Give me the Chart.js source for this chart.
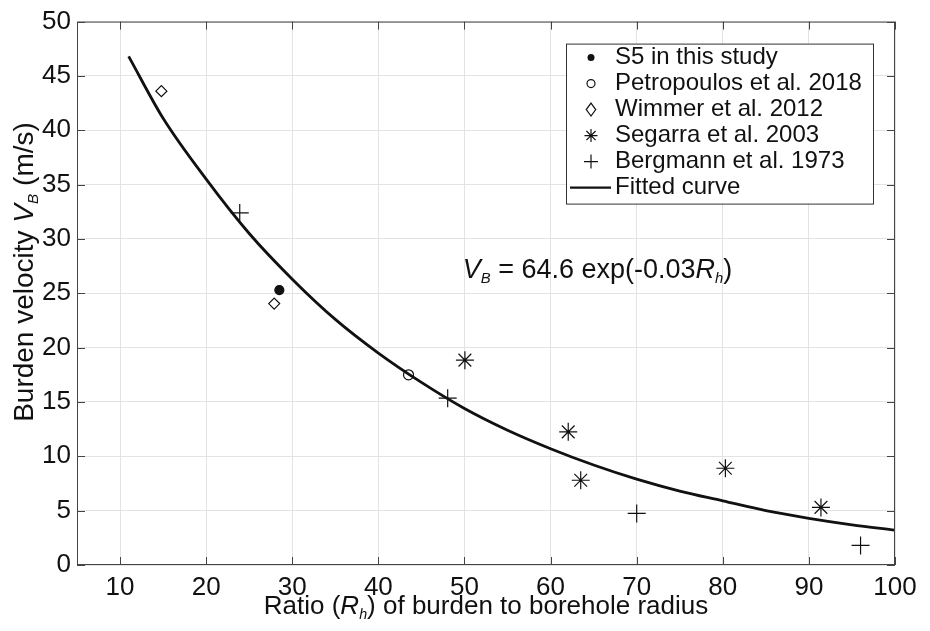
<!DOCTYPE html>
<html>
<head>
<meta charset="utf-8">
<script src="https://cdn.jsdelivr.net/npm/chart.js@4/dist/chart.umd.min.js"></script>
<style>
  html, body { margin: 0; padding: 0; background: #fff; }
  #wrap { width: 930px; height: 631px; }
</style>
</head>
<body>
<div id="wrap"><canvas id="burden-chart" width="930" height="631"></canvas></div>
<script>
// tick labels
const xTicks = [10, 20, 30, 40, 50, 60, 70, 80, 90, 100];
const yTicks = [0, 5, 10, 15, 20, 25, 30, 35, 40, 45, 50];

// measured data
const s5X = [28.5];
const s5Y = [25.3];
const petroX = [43.5];
const petroY = [17.5];
const wimmerX = [14.8, 27.9];
const wimmerY = [43.6, 24.05];
const segarraX = [50.05, 62.05, 63.5, 80.3, 91.4];
const segarraY = [18.85, 12.25, 7.8, 8.9, 5.3];
const bergmannX = [23.9, 48.05, 70.0, 96.0];
const bergmannY = [32.4, 15.35, 4.75, 1.8];

// fitted curve
const fitX = [11, 15, 20, 25, 30, 35, 40, 45, 50, 55, 60, 65, 70, 75, 80, 85, 90, 95, 100];
const fitY = [46.8, 41.1, 35.5, 30.5, 26.3, 22.6, 19.5, 16.8, 14.4, 12.4, 10.7, 9.2, 7.9, 6.8, 5.9, 5.0, 4.3, 3.7, 3.2];

const toPts = (xs, ys) => xs.map((x, i) => ({ x: x, y: ys[i] }));

const FONT = "'Liberation Sans', Arial, Helvetica, sans-serif";
const INK = "#111";

// draws one run of text pieces: [text, italic, sub]
function drawRich(ctx, parts, size, x, y, align) {
    const widths = parts.map(p => {
        ctx.font = (p[1] ? "italic " : "") + (p[2] ? size * 0.55 : size) + "px " + FONT;
        return ctx.measureText(p[0]).width;
    });
    const total = widths.reduce((a, b) => a + b, 0);
    let cx = align === "center" ? x - total / 2 : x;
    parts.forEach((p, i) => {
        ctx.font = (p[1] ? "italic " : "") + (p[2] ? size * 0.55 : size) + "px " + FONT;
        ctx.fillText(p[0], cx, p[2] ? y + size * 0.18 : y);
        cx += widths[i];
    });
}

function drawMarker(ctx, style, x, y, r) {
    ctx.beginPath();
    if (style === "dot") {
        ctx.arc(x, y, r, 0, Math.PI * 2);
        ctx.fill();
        return;
    }
    if (style === "circle") {
        ctx.arc(x, y, r, 0, Math.PI * 2);
    } else if (style === "diamond") {
        ctx.moveTo(x, y - r * 1.3);
        ctx.lineTo(x + r * 0.95, y);
        ctx.lineTo(x, y + r * 1.3);
        ctx.lineTo(x - r * 0.95, y);
        ctx.closePath();
    } else if (style === "star") {
        const d = r * Math.SQRT1_2;
        ctx.moveTo(x - r, y); ctx.lineTo(x + r, y);
        ctx.moveTo(x, y - r); ctx.lineTo(x, y + r);
        ctx.moveTo(x - d, y - d); ctx.lineTo(x + d, y + d);
        ctx.moveTo(x - d, y + d); ctx.lineTo(x + d, y - d);
    } else if (style === "plus") {
        ctx.moveTo(x - r, y); ctx.lineTo(x + r, y);
        ctx.moveTo(x, y - r); ctx.lineTo(x, y + r);
    }
    ctx.stroke();
}

const legendItems = [
    { label: "S5 in this study", style: "dot", r: 3.5 },
    { label: "Petropoulos et al. 2018", style: "circle", r: 4 },
    { label: "Wimmer et al. 2012", style: "diamond", r: 5 },
    { label: "Segarra et al. 2003", style: "star", r: 6.5 },
    { label: "Bergmann et al. 1973", style: "plus", r: 7 },
    { label: "Fitted curve", style: "line" }
];

const decorPlugin = {
    id: "decor",
    afterDatasetsDraw(chart) {
        const ctx = chart.ctx;
        const a = chart.chartArea;
        const xs = chart.scales.x;
        const ys = chart.scales.y;
        ctx.save();

        // box + inward ticks
        ctx.strokeStyle = "#444";
        ctx.lineWidth = 1;
        ctx.strokeRect(a.left + 0.5, a.top + 0.5, a.right - a.left - 1, a.bottom - a.top - 1);
        ctx.beginPath();
        xTicks.forEach(v => {
            const px = Math.round(xs.getPixelForValue(v)) + 0.5;
            ctx.moveTo(px, a.bottom); ctx.lineTo(px, a.bottom - 8);
            ctx.moveTo(px, a.top); ctx.lineTo(px, a.top + 8);
        });
        yTicks.forEach(v => {
            const py = Math.round(ys.getPixelForValue(v)) + 0.5;
            ctx.moveTo(a.left, py); ctx.lineTo(a.left + 8, py);
            ctx.moveTo(a.right, py); ctx.lineTo(a.right - 8, py);
        });
        ctx.stroke();

        // equation
        ctx.fillStyle = INK;
        ctx.textBaseline = "alphabetic";
        ctx.textAlign = "left";
        drawRich(ctx, [["V", true], ["B", true, true], [" = 64.6 exp(-0.03", false], ["R", true], ["h", true, true], [")", false]],
            27, xs.getPixelForValue(49.8), ys.getPixelForValue(26.4), "left");

        // legend
        const lx = a.right - 329, ly = a.top + 22, lw = 307, lh = 160;
        ctx.fillStyle = "#fff";
        ctx.fillRect(lx, ly, lw, lh);
        ctx.strokeStyle = "#333";
        ctx.lineWidth = 1;
        ctx.strokeRect(lx + 0.5, ly + 0.5, lw, lh);
        ctx.textBaseline = "middle";
        legendItems.forEach((it, i) => {
            const cy = ly + 14 + i * 26;
            ctx.fillStyle = INK;
            ctx.strokeStyle = INK;
            ctx.lineWidth = 1.2;
            if (it.style === "line") {
                ctx.lineWidth = 2.2;
                ctx.beginPath();
                ctx.moveTo(lx + 4, cy); ctx.lineTo(lx + 45, cy);
                ctx.stroke();
            } else {
                drawMarker(ctx, it.style, lx + 25, cy, it.r);
            }
            ctx.font = "24px " + FONT;
            ctx.fillText(it.label, lx + 49, cy);
        });

        // axis titles
        ctx.fillStyle = INK;
        ctx.textBaseline = "alphabetic";
        drawRich(ctx, [["Ratio (", false], ["R", true], ["h", true, true], [") of burden to borehole radius", false]],
            26, (a.left + a.right) / 2, 614, "center");
        ctx.translate(33, 272);
        ctx.rotate(-Math.PI / 2);
        drawRich(ctx, [["Burden velocity ", false], ["V", true], ["B", true, true], [" (m/s)", false]],
            28, 0, 0, "center");
        ctx.restore();
    }
};

const scatterSet = (label, xs, ys, style, radius, extra) => Object.assign({
    label: label,
    data: toPts(xs, ys),
    showLine: false,
    pointStyle: style,
    pointRadius: radius,
    pointHoverRadius: radius,
    borderColor: INK,
    backgroundColor: "transparent",
    pointBorderWidth: 1.2
}, extra || {});

const ctx = document.getElementById("burden-chart").getContext("2d");
new Chart(ctx, {
    type: "scatter",
    data: {
        datasets: [
            {
                label: "Fitted curve",
                data: toPts(fitX, fitY),
                showLine: true,
                borderColor: INK,
                borderWidth: 2.8,
                pointRadius: 0,
                cubicInterpolationMode: "monotone",
                fill: false
            },
            scatterSet("S5 in this study", s5X, s5Y, "circle", 4.5, { backgroundColor: INK }),
            scatterSet("Petropoulos et al. 2018", petroX, petroY, "circle", 5),
            scatterSet("Wimmer et al. 2012", wimmerX, wimmerY, "rectRot", 5.5),
            scatterSet("Segarra et al. 2003", segarraX, segarraY, "star", 9),
            scatterSet("Bergmann et al. 1973", bergmannX, bergmannY, "cross", 9)
        ]
    },
    options: {
        responsive: false,
        animation: false,
        layout: { padding: { top: 21, right: 35, left: 0, bottom: 0 } },
        plugins: {
            legend: { display: false },
            tooltip: { enabled: false }
        },
        scales: {
            x: {
                type: "linear",
                min: 5,
                max: 100,
                afterBuildTicks: scale => { scale.ticks = xTicks.map(v => ({ value: v })); },
                afterFit: scale => { scale.height = 66; },
                grid: { color: "#e3e3e3", drawTicks: false },
                border: { display: false },
                ticks: { padding: 7, color: INK, font: { family: FONT, size: 26 }, maxRotation: 0 }
            },
            y: {
                type: "linear",
                min: 0,
                max: 50,
                afterBuildTicks: scale => { scale.ticks = yTicks.map(v => ({ value: v })); },
                afterFit: scale => { scale.width = 77; },
                grid: { color: "#e3e3e3", drawTicks: false },
                border: { display: false },
                ticks: { padding: 6, color: INK, font: { family: FONT, size: 26 } }
            }
        }
    },
    plugins: [decorPlugin]
});
</script>
</body>
</html>
